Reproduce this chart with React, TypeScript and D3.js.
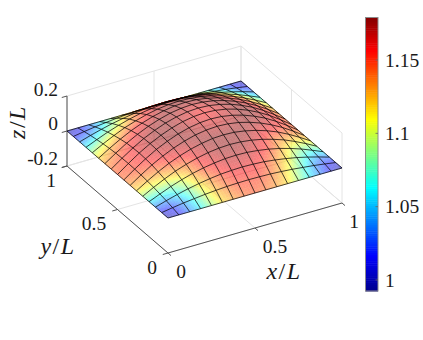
import React from 'react';
import * as d3 from 'd3';

// one quarter of the sheet, the rest is mirrored (rows = y, columns = x)
const zQuarter = [
  [0, 0, 0, 0, 0, 0, 0, 0, 0],
  [0, 0.01, 0.019, 0.026, 0.033, 0.038, 0.042, 0.044, 0.045],
  [0, 0.019, 0.036, 0.051, 0.063, 0.073, 0.081, 0.085, 0.087],
  [0, 0.026, 0.051, 0.072, 0.09, 0.104, 0.114, 0.121, 0.123],
  [0, 0.033, 0.063, 0.09, 0.111, 0.129, 0.142, 0.15, 0.153],
  [0, 0.038, 0.073, 0.104, 0.129, 0.149, 0.164, 0.174, 0.177],
  [0, 0.042, 0.081, 0.114, 0.142, 0.164, 0.181, 0.191, 0.195],
  [0, 0.044, 0.085, 0.121, 0.15, 0.174, 0.191, 0.202, 0.206],
  [0, 0.045, 0.087, 0.123, 0.153, 0.177, 0.195, 0.206, 0.21],
];
const cQuarter = [
  [0.995, 1.01, 1.035, 1.06, 1.09, 1.115, 1.13, 1.14, 1.145],
  [1.01, 1.02, 1.04, 1.07, 1.1, 1.125, 1.14, 1.15, 1.15],
  [1.035, 1.04, 1.06, 1.085, 1.115, 1.135, 1.15, 1.158, 1.16],
  [1.06, 1.07, 1.085, 1.105, 1.13, 1.15, 1.16, 1.168, 1.17],
  [1.09, 1.1, 1.115, 1.13, 1.14, 1.158, 1.168, 1.175, 1.177],
  [1.115, 1.125, 1.135, 1.15, 1.158, 1.165, 1.175, 1.177, 1.175],
  [1.13, 1.14, 1.15, 1.16, 1.168, 1.175, 1.175, 1.17, 1.168],
  [1.14, 1.15, 1.158, 1.168, 1.175, 1.177, 1.17, 1.165, 1.16],
  [1.145, 1.15, 1.16, 1.17, 1.177, 1.175, 1.168, 1.16, 1.155],
];
const xTicks = [0, 0.5, 1];
const yTicks = [0, 0.5, 1];
const zTicks = [-0.2, 0, 0.2];
const cTicks = [1, 1.05, 1.1, 1.15];
const cRange = [0.9925, 1.179];

const FONT = '"Liberation Serif", serif';
const GRID = '#e4e4e4';
const AXIS = '#555';

const mirror = (q: number[][]) => {
  const half = q.map(r => [...r, ...r.slice(0, -1).reverse()]);
  return [...half, ...half.slice(0, -1).reverse()];
};
const Z = mirror(zQuarter);
const C = mirror(cQuarter);
const N = Z.length - 1;
const SUB = 4;

// oblique axes of the 3D box
const xDx = d3.scaleLinear().domain([0, 1]).range([0, 174]);
const xDy = d3.scaleLinear().domain([0, 1]).range([0, -50]);
const yDx = d3.scaleLinear().domain([0, 1]).range([0, -101]);
const yDy = d3.scaleLinear().domain([0, 1]).range([0, -87]);
const zDy = d3.scaleLinear().domain([-0.2, 0.2]).range([253, 183]);
const proj = (x: number, y: number, z: number): [number, number] => [
  168 + xDx(x) + yDx(y),
  zDy(z) + xDy(x) + yDy(y),
];

const jet = d3
  .scaleLinear<string>()
  .domain([0, 0.125, 0.375, 0.625, 0.875, 1])
  .range(['#00008f', '#0000ff', '#00ffff', '#ffff00', '#ff0000', '#800000'])
  .clamp(true);
const cNorm = d3.scaleLinear().domain(cRange).range([0, 1]);
const cbY = d3.scaleLinear().domain(cRange).range([291, 17.5]);

const bilerp = (m: number[][], u: number, v: number) => {
  const i = Math.min(Math.floor(u), N - 1);
  const j = Math.min(Math.floor(v), N - 1);
  const a = u - i;
  const b = v - j;
  return (
    m[j][i] * (1 - a) * (1 - b) + m[j][i + 1] * a * (1 - b) + m[j + 1][i] * (1 - a) * b + m[j + 1][i + 1] * a * b
  );
};
const pt = (u: number, v: number) => proj(u / N, v / N, bilerp(Z, u, v));

type Quad = { pts: [number, number][]; color: string; depth: number; area: number };
const quads: Quad[] = [];
for (let j = 0; j < N * SUB; j++) {
  for (let i = 0; i < N * SUB; i++) {
    const u0 = i / SUB, u1 = (i + 1) / SUB, v0 = j / SUB, v1 = (j + 1) / SUB;
    const pts = [pt(u0, v0), pt(u1, v0), pt(u1, v1), pt(u0, v1)];
    const uc = (u0 + u1) / 2, vc = (v0 + v1) / 2;
    quads.push({
      pts,
      color: jet(cNorm(bilerp(C, uc, vc))),
      depth: 50 * uc + 87 * vc,
      area: d3.polygonArea(pts),
    });
  }
}
quads.sort((a, b) => b.depth - a.depth);
const backFaces = quads.filter(q => q.area > 0);
const frontFaces = quads.filter(q => q.area <= 0);

const line = d3.line();
const quadPath = (q: Quad) => line(q.pts) + 'Z';

const meshPaths: string[] = [];
d3.range(N + 1).forEach(k => {
  meshPaths.push(line(d3.range(N + 1).map(t => pt(t, k)))!);
  meshPaths.push(line(d3.range(N + 1).map(t => pt(k, t)))!);
});

const seg = (a: [number, number], b: [number, number]) => line([a, b])!;

const gridPaths: string[] = [
  ...xTicks.map(x => seg(proj(x, 0, -0.2), proj(x, 1, -0.2))),
  ...xTicks.map(x => seg(proj(x, 1, -0.2), proj(x, 1, 0.2))),
  ...yTicks.map(y => seg(proj(0, y, -0.2), proj(1, y, -0.2))),
  ...yTicks.map(y => seg(proj(1, y, -0.2), proj(1, y, 0.2))),
  ...zTicks.map(z => seg(proj(0, 1, z), proj(1, 1, z))),
  ...zTicks.map(z => seg(proj(1, 1, z), proj(1, 0, z))),
];

const axisPaths: string[] = [
  seg(proj(0, 0, -0.2), proj(1, 0, -0.2)),
  seg(proj(0, 0, -0.2), proj(0, 1, -0.2)),
  seg(proj(0, 1, -0.2), proj(0, 1, 0.2)),
  ...xTicks.map(x => seg(proj(x, 0, -0.2), proj(x, -0.03, -0.2))),
  ...yTicks.map(y => seg(proj(0, y, -0.2), proj(-0.03, y, -0.2))),
  ...zTicks.map(z => seg(proj(0, 1, z), proj(-0.03, 1, z))),
];

const xLabelPos: [string, number, number][] = [['0', 181, 271], ['0.5', 275, 246], ['1', 354, 221]];
const yLabelPos: [string, number, number][] = [['0', 152, 267], ['0.5', 94, 223], ['1', 51, 180]];
const zLabelPos: [string, number][] = [['0.2', 89], ['0', 123], ['-0.2', 158]];

const Ratio = ({ name, transform }: { name: string; transform: string }) => (
  <text transform={transform} textAnchor="middle" dominantBaseline="central" fontFamily={FONT} fontSize={24} letterSpacing={1.5} fill="#1a1a1a">
    <tspan fontStyle="italic">{name}</tspan>
    <tspan>/</tspan>
    <tspan fontStyle="italic">L</tspan>
  </text>
);

const App = () => {
  const levels = d3.range(128).map(k => cRange[0] + ((cRange[1] - cRange[0]) * k) / 128);
  const dc = (cRange[1] - cRange[0]) / 128;
  const tick = { fontFamily: FONT, fontSize: 19.5, fill: '#1a1a1a', dominantBaseline: 'central' } as const;
  return (
    <svg width={423} height={340} style={{ position: 'absolute', left: 0, top: 0, background: '#fff' }}>
      <g fill="none" stroke={GRID} strokeWidth={1}>
        {gridPaths.map((d, i) => <path key={i} d={d} />)}
      </g>
      <g fill="none" stroke={AXIS} strokeWidth={1}>
        {axisPaths.map((d, i) => <path key={i} d={d} />)}
      </g>
      <g opacity={0.5}>
        {backFaces.map((q, i) => <path key={i} d={quadPath(q)} fill={q.color} stroke={q.color} strokeWidth={0.5} />)}
      </g>
      <g opacity={0.5}>
        {frontFaces.map((q, i) => <path key={i} d={quadPath(q)} fill={q.color} stroke={q.color} strokeWidth={0.5} />)}
      </g>
      <g fill="none" stroke="#000" strokeOpacity={0.72} strokeWidth={1}>
        {meshPaths.map((d, i) => <path key={i} d={d} />)}
      </g>

      {xLabelPos.map(([t, x, y]) => <text key={t} x={x} y={y} textAnchor="middle" {...tick}>{t}</text>)}
      {yLabelPos.map(([t, x, y]) => <text key={t} x={x} y={y} textAnchor="middle" {...tick}>{t}</text>)}
      {zLabelPos.map(([t, y]) => <text key={t} x={58} y={y} textAnchor="end" {...tick}>{t}</text>)}
      <Ratio name="x" transform="translate(284,271)" />
      <Ratio name="y" transform="translate(58,246)" />
      <Ratio name="z" transform="translate(17,122) rotate(-90)" />

      {levels.map(v => (
        <rect key={v} x={365.5} width={12.5} y={cbY(v + dc)} height={cbY(v) - cbY(v + dc) + 0.5} fill={jet(cNorm(v))} />
      ))}
      <rect x={365.5} y={17.5} width={12.5} height={273.5} fill="none" stroke="#8a8a8a" strokeWidth={1} />
      {cTicks.map(v => (
        <g key={v}>
          <line x1={375.5} x2={378} y1={cbY(v)} y2={cbY(v)} stroke="#666" strokeWidth={0.8} />
          <text x={385} y={cbY(v)} {...tick}>{String(v)}</text>
        </g>
      ))}
    </svg>
  );
};

export default App;
